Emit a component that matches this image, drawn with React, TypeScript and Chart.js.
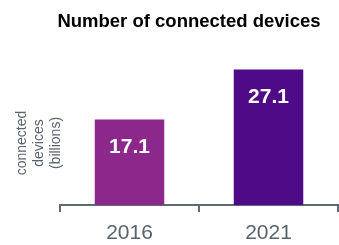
import React, { useEffect, useRef } from "react";
import { Chart, registerables } from "chart.js";

Chart.register(...registerables);

const categories: string[] = ["2016", "2021"];
const deviceValues: number[] = [17.1, 27.1];
const valueLabels: string[] = ["17.1", "27.1"];
const barColors: string[] = ["#8C278C", "#4F0A88"];
const chartTitle = "Number of connected devices";
const yTitleLines: string[] = ["connected", "devices", "(billions)"];

const FONT = '"Liberation Sans", Arial, Helvetica, sans-serif';
const AXIS_COLOR = "#5f6b74";
const TEXT_GRAY = "#58646d";

const textPlugin = {
  id: "customText",
  afterDatasetsDraw(chart: any) {
    const ctx = chart.ctx as CanvasRenderingContext2D;
    const area = chart.chartArea;
    ctx.save();
    // chart title
    ctx.fillStyle = "#000000";
    ctx.font = `bold 18.5px ${FONT}`;
    ctx.textAlign = "center";
    ctx.textBaseline = "alphabetic";
    ctx.fillText(chartTitle, 189, 27);

    // value labels inside bars
    const meta = chart.getDatasetMeta(0);
    ctx.fillStyle = "#ffffff";
    ctx.font = `bold 21px ${FONT}`;
    meta.data.forEach((bar: any, i: number) => {
      ctx.fillText(valueLabels[i], bar.x, bar.y + 33);
    });

    // rotated y-axis title
    ctx.fillStyle = TEXT_GRAY;
    ctx.font = `14px ${FONT}`;
    const centerY = area.bottom - 62;
    const baselines = [26, 43, 60];
    yTitleLines.forEach((line, i) => {
      ctx.save();
      ctx.translate(baselines[i], centerY);
      ctx.rotate(-Math.PI / 2);
      ctx.textAlign = "center";
      ctx.textBaseline = "alphabetic";
      ctx.fillText(line, 0, 0);
      ctx.restore();
    });
    ctx.restore();
  },
};

export default function App() {
  const canvasRef = useRef<HTMLCanvasElement | null>(null);

  useEffect(() => {
    if (!canvasRef.current) return;
    const chart = new Chart(canvasRef.current, {
      type: "bar",
      data: {
        labels: categories,
        datasets: [
          {
            data: deviceValues,
            backgroundColor: barColors,
            borderWidth: 0,
            categoryPercentage: 1,
            barPercentage: 0.5,
          },
        ],
      },
      options: {
        animation: false,
        responsive: true,
        maintainAspectRatio: false,
        layout: { padding: { left: 60, right: 1, top: 55, bottom: 0 } },
        plugins: {
          legend: { display: false },
          title: { display: false },
          tooltip: { enabled: false },
        },
        scales: {
          x: {
            offset: true,
            afterFit: (scale: any) => {
              scale.height = 40;
            },
            grid: {
              display: true,
              offset: true,
              drawOnChartArea: false,
              drawTicks: true,
              tickLength: 7,
              color: AXIS_COLOR,
              lineWidth: 2,
            },
            border: { display: true, color: AXIS_COLOR, width: 2 },
            ticks: {
              color: TEXT_GRAY,
              font: { size: 21, family: FONT },
              padding: 9,
            },
          },
          y: {
            display: false,
            min: 0,
            max: 30,
          },
        },
      },
      plugins: [textPlugin],
    });
    return () => chart.destroy();
  }, []);

  return (
    <div style={{ position: "fixed", left: 0, top: 0, width: 339, height: 245, background: "#ffffff" }}>
      <canvas ref={canvasRef} />
    </div>
  );
}
